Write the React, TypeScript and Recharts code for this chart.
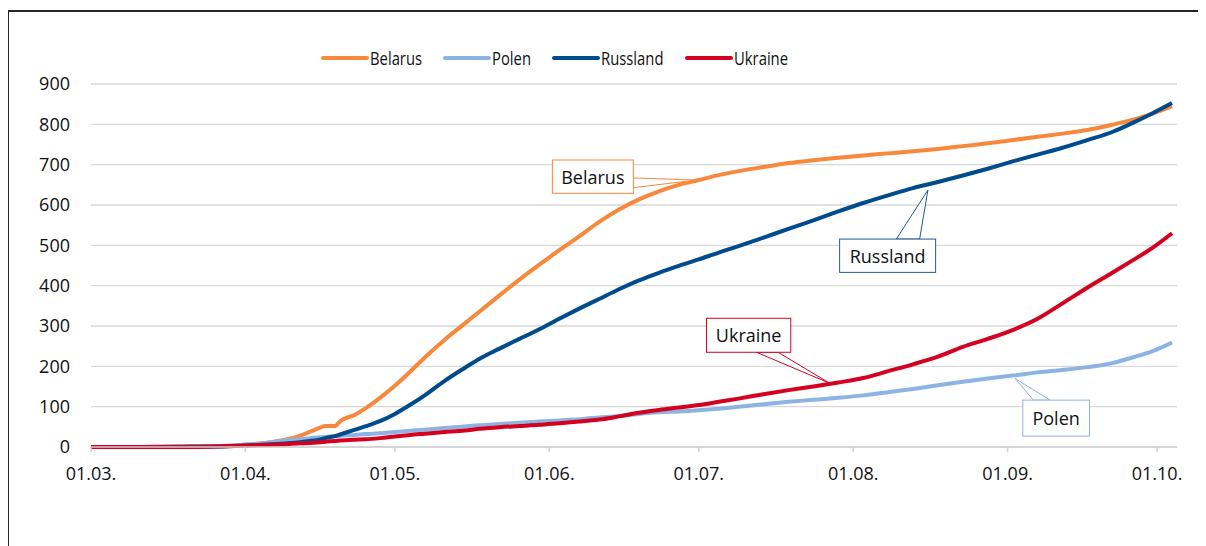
import React from 'react';
import { LineChart, Line, XAxis, YAxis, CartesianGrid, Legend, ReferenceDot } from 'recharts';

// day index counted from 01.03.
const days = [0, 10, 20, 25, 30, 35, 39, 42, 44, 46, 47, 49, 50, 53, 55, 58, 61, 64, 67, 71, 75, 78, 82, 86, 90, 94, 98, 102, 106, 110, 114, 118, 122, 126, 130, 135, 140, 145, 150, 155, 160, 165, 170, 175, 180, 185, 190, 195, 200, 205, 209, 213, 217];

const belarus = [0, 0, 1, 2, 5, 10, 18, 28, 38, 48, 52, 52, 64, 80, 95, 122, 152, 186, 222, 266, 306, 336, 376, 415, 452, 488, 522, 558, 589, 614, 634, 650, 662, 674, 684, 694, 704, 711, 717, 723, 728, 733, 739, 746, 753, 761, 769, 777, 786, 799, 811, 826, 845];
const polen = [0, 0, 1, 2, 5, 10, 16, 19, 22, 24, 25, 27, 28, 30, 32, 34, 37, 40, 43, 47, 51, 54, 57, 60, 63, 66, 69, 73, 77, 82, 86, 88, 91, 95, 100, 106, 112, 117, 122, 128, 136, 144, 153, 162, 170, 177, 185, 191, 198, 208, 222, 237, 259];
const russland = [0, 0, 1, 1, 3, 6, 9, 12, 15, 19, 22, 27, 31, 43, 51, 64, 82, 104, 128, 164, 196, 219, 244, 268, 292, 318, 343, 367, 391, 413, 432, 449, 465, 482, 498, 519, 541, 562, 584, 605, 624, 642, 657, 673, 690, 708, 725, 742, 761, 781, 803, 827, 853];
const ukraine = [0, 0, 0, 1, 3, 5, 7, 9, 10, 12, 13, 15, 16, 18, 19, 22, 26, 30, 33, 37, 41, 45, 49, 52, 55, 59, 63, 68, 76, 85, 92, 98, 104, 112, 120, 131, 141, 150, 160, 171, 188, 205, 224, 248, 268, 290, 318, 356, 395, 432, 462, 493, 530];

const monthTicks = [0, 31, 61, 92, 122, 153, 184, 214];
const monthLabels = ['01.03.', '01.04.', '01.05.', '01.06.', '01.07.', '01.08.', '01.09.', '01.10.'];
const yTicks = [0, 100, 200, 300, 400, 500, 600, 700, 800, 900];

const seriesNames = ['Belarus', 'Polen', 'Russland', 'Ukraine'];
const seriesColors = ['#F7883C', '#8DB3E2', '#004B8D', '#D5001F'];
const seriesValues = [belarus, polen, russland, ukraine];

// callout anchors (data coordinates)
const calloutDays = [121.6, 185.5, 168, 148.3];
const calloutValues = [662, 170, 637, 158];
const calloutBorder = ['#F7883C', '#8DB3E2', '#1F5A96', '#D5001F'];

const data = days.map((d, i) => {
  const row: any = { day: d };
  seriesNames.forEach((n, k) => (row[n] = seriesValues[k][i]));
  return row;
});

// box geometry relative to anchor tip (style)
const boxGeom: Record<string, any> = {
  Belarus: { bx: -144.4, by: -20, w: 81, h: 33.3, base: [[-63.4, -2], [-63.4, 7.7]] },
  Russland: { bx: -88.3, by: 49, w: 96, h: 33.3, base: [[-31.6, 49], [-8.3, 49]] },
  Ukraine: { bx: -123.3, by: -65, w: 84.3, h: 34, base: [[-73.3, -31], [-51.7, -31]] },
  Polen: { bx: 7.7, by: 21.7, w: 66.7, h: 36, base: [[18.3, 21.7], [35, 21.7]] },
};

const makeCallout = (label: string, color: string) => (props: any) => {
  const { cx, cy } = props;
  if (cx == null || cy == null) return <g />;
  const g = boxGeom[label];
  const pts = `${cx},${cy} ${cx + g.base[0][0]},${cy + g.base[0][1]} ${cx + g.base[1][0]},${cy + g.base[1][1]}`;
  return (
    <g>
      <polygon points={pts} fill="#fff" stroke={color} strokeWidth={1} />
      <rect x={cx + g.bx} y={cy + g.by} width={g.w} height={g.h} fill="#fff" stroke={color} strokeWidth={1} />
      <text
        x={cx + g.bx + g.w / 2}
        y={cy + g.by + g.h / 2}
        textAnchor="middle"
        dominantBaseline="central"
        fontFamily="'Open Sans', sans-serif"
        fontSize={18}
        fill="#111"
      >
        {label}
      </text>
    </g>
  );
};

const LEGEND_FONT = "19px 'Open Sans'";
const LEGEND_SCALE = 0.78;
let measureCtx: CanvasRenderingContext2D | null = null;
const measure = (t: string) => {
  if (typeof document === 'undefined') return t.length * 10;
  if (!measureCtx) measureCtx = document.createElement('canvas').getContext('2d');
  if (!measureCtx) return t.length * 10;
  measureCtx.font = LEGEND_FONT;
  return measureCtx.measureText(t).width;
};

const renderLegend = (props: any) => {
  const { payload } = props;
  return (
    <div style={{ display: 'flex', alignItems: 'center', height: 24, whiteSpace: 'nowrap' }}>
      {(payload || []).map((p: any) => {
        const w = measure(String(p.value));
        return (
          <div key={p.value} style={{ display: 'flex', alignItems: 'center', marginRight: 21 }}>
            <svg width={48} height={24} style={{ display: 'block' }}>
              <line x1={2} x2={46} y1={12} y2={12} stroke={p.color} strokeWidth={4} strokeLinecap="round" />
            </svg>
            <span
              style={{
                display: 'inline-block',
                fontFamily: "'Open Sans', sans-serif",
                fontSize: 19,
                color: '#111',
                marginLeft: 1,
                lineHeight: '24px',
                transform: `scaleX(${LEGEND_SCALE})`,
                transformOrigin: 'left center',
                marginRight: -(1 - LEGEND_SCALE) * w,
              }}
            >
              {p.value}
            </span>
          </div>
        );
      })}
    </div>
  );
};

export default function App() {
  return (
    <div style={{ position: 'relative', width: 1198, height: 538, overflow: 'hidden' }}>
      <div
        style={{
          position: 'absolute',
          left: 0,
          top: 2,
          width: 1400,
          height: 800,
          borderTop: '2px solid #262626',
          borderLeft: '1.5px solid #262626',
          boxSizing: 'border-box',
        }}
      />
      <div style={{ position: 'absolute', left: 0, top: 0 }}>
        <LineChart
          width={1198}
          height={538}
          data={data}
          margin={{ top: 76, right: 29, bottom: 59, left: 23 }}
        >
          <CartesianGrid horizontal vertical={false} stroke="#D9D9D9" strokeWidth={1.3} />
          <XAxis
            dataKey="day"
            type="number"
            domain={[0, 218]}
            ticks={monthTicks}
            tickFormatter={(v: number) => monthLabels[monthTicks.indexOf(v)] ?? ''}
            interval={0}
            height={40}
            stroke="#D0D0D0"
            strokeWidth={1.5}
            tickSize={5}
            tickMargin={15}
            tick={{ fill: '#111', fontSize: 18, fontFamily: "'Open Sans', sans-serif" }}
          />
          <YAxis
            type="number"
            domain={[0, 900]}
            ticks={yTicks}
            interval={0}
            width={60}
            axisLine={false}
            tickLine={false}
            tickSize={0}
            tickMargin={21}
            tick={{ fill: '#111', fontSize: 18, fontFamily: "'Open Sans', sans-serif" }}
          />
          <Legend
            verticalAlign="middle"
            align="center"
            layout="horizontal"
            content={renderLegend}
            wrapperStyle={{ top: 38, left: 313, width: 'auto' }}
          />
          {seriesNames.map((n, k) => (
            <Line
              key={n}
              dataKey={n}
              name={n}
              type="monotone"
              stroke={seriesColors[k]}
              strokeWidth={4}
              dot={false}
              activeDot={false}
              isAnimationActive={false}
            />
          ))}
          {seriesNames.map((n, k) => (
            <ReferenceDot
              key={'c' + n}
              x={calloutDays[k]}
              y={calloutValues[k]}
              r={0}
              ifOverflow="visible"
              shape={makeCallout(n, calloutBorder[k])}
            />
          ))}
        </LineChart>
      </div>
    </div>
  );
}
